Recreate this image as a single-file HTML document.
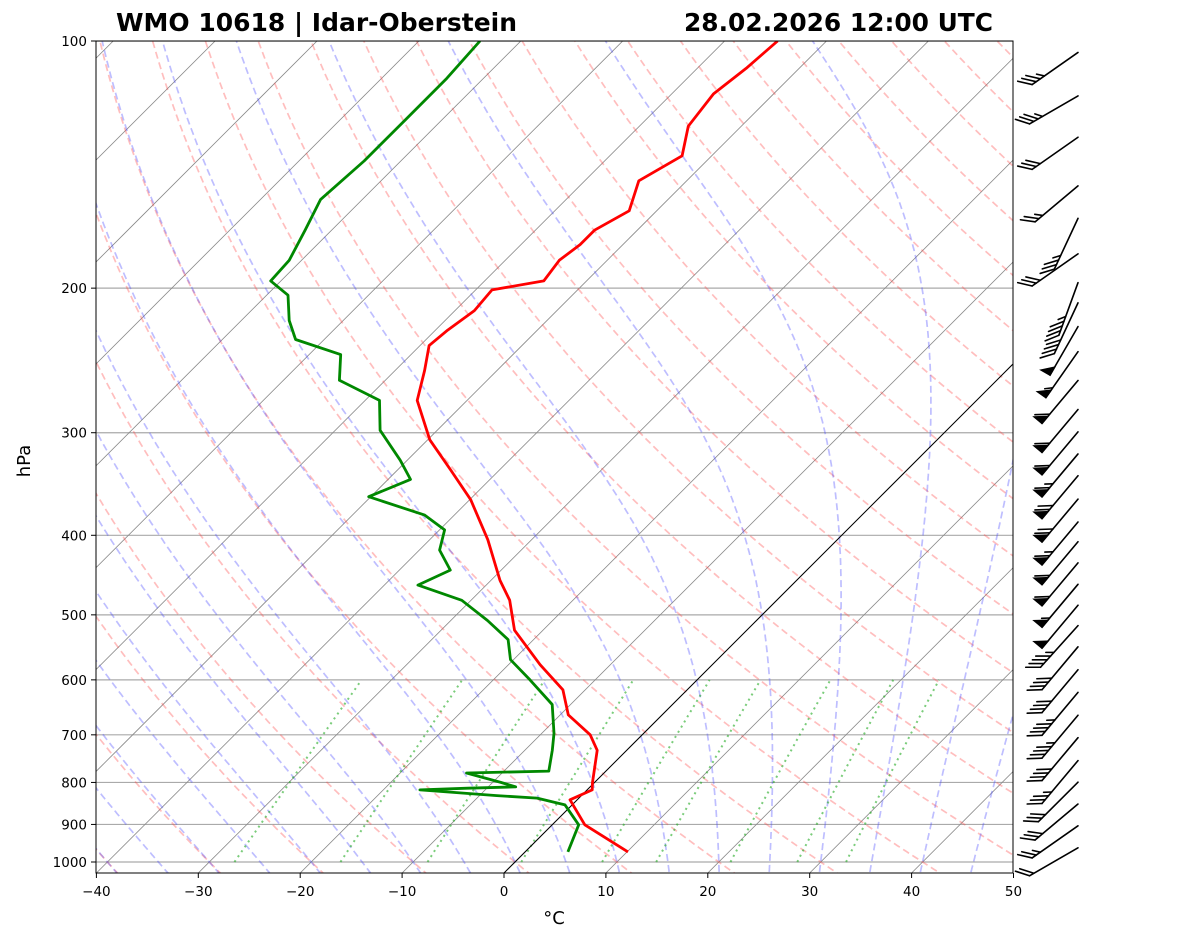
<!DOCTYPE html>
<html><head><meta charset="utf-8">
<style>
html,body{margin:0;padding:0;background:#fff;}
svg{display:block;font-family:"DejaVu Sans","Liberation Sans",sans-serif;}
</style></head>
<body>
<svg id="chart" width="1181" height="941" viewBox="0 0 1181 941" xmlns="http://www.w3.org/2000/svg">
<defs><clipPath id="plotclip"><rect x="96" y="41" width="917" height="832"/></clipPath></defs>
<rect width="1181" height="941" fill="#fff"/>
<text x="116" y="31" font-size="25" font-weight="bold" textLength="401" lengthAdjust="spacingAndGlyphs">WMO 10618 | Idar-Oberstein</text>
<text x="684" y="31" font-size="25" font-weight="bold" textLength="309" lengthAdjust="spacingAndGlyphs">28.02.2026 12:00 UTC</text>
<g id="bg" clip-path="url(#plotclip)"></g>
<g id="profiles" clip-path="url(#plotclip)"></g>
<rect x="96" y="41" width="917" height="832" fill="none" stroke="#000" stroke-width="1"/>
<g id="axes"></g>
<g id="barbs"></g>
<text x="30" y="461" font-size="18" text-anchor="middle" transform="rotate(-90 30 461)">hPa</text>
<text x="554" y="924" font-size="18" text-anchor="middle">°C</text>
</svg>
<script>
// ---- data ----
const pressureTicks = [100,200,300,400,500,600,700,800,900,1000];
const tempTicks = [-40,-30,-20,-10,0,10,20,30,40,50];
const tempP = [972,901,840,817,800,731,700,662,617,575,522,480,454,405,362,333,306,274,252,235,225,213,201,196,185,177,170,161,148,138,127,116,108,100];
const tempT = [10.1,3.2,-0.7,0.5,-0.2,-2.9,-5.1,-9.2,-12.2,-16.9,-22.8,-26.2,-29.1,-34.3,-39.9,-44.8,-49.8,-54.9,-57.1,-59.1,-58.8,-58.1,-58.4,-54.2,-54.7,-54.2,-54.2,-52.7,-54.7,-52.9,-55.2,-55.9,-55.2,-54.8];
const dewP = [972,901,852,845,836,830,817,813,810,800,779,775,731,697,643,600,567,536,508,480,460,441,417,394,378,359,342,324,298,274,259,241,231,219,204,196,185,170,156,140,125,111,100];
const dewT = [4.2,2.6,-0.7,-2.2,-4.1,-8.3,-16.4,-11.9,-7.3,-9.2,-13.5,-5.6,-7.3,-8.8,-11.8,-16.4,-20.3,-22.5,-26.4,-30.9,-36.7,-35.0,-38.0,-39.5,-42.9,-50.2,-47.8,-50.7,-55.6,-58.6,-64.5,-66.9,-72.8,-75.3,-77.9,-81.0,-81.2,-82.6,-84.1,-83.6,-83.6,-83.6,-84.0];
const barbP = [108,122,137,157,172,190,206,218,233,250,271,294,313,333,354,378,403,426,452,480,509,539,572,610,650,693,738,787,836,889,945,1005];
const barbDir = [235,240,235,230,205,235,200,205,210,215,220,220,220,220,220,220,220,220,220,220,220,222,220,220,220,220,220,220,225,230,235,240];
const barbSpd = [35,35,30,25,35,30,45,40,50,55,60,60,60,65,70,70,65,60,60,55,50,45,40,40,45,45,40,35,30,30,25,20];

// ---- axis functions ----
const Y0=41, DEC=821, XB=873;
function yOf(p){return Y0+DEC*Math.log10(p/100);}
function xOf(T,p){return 504+T*10.19+(XB-yOf(p));}
const NS="http://www.w3.org/2000/svg";
function mk(tag,attrs,parent){const e=document.createElementNS(NS,tag);for(const k in attrs)e.setAttribute(k,attrs[k]);parent.appendChild(e);return e;}
const bg=document.getElementById('bg'),prof=document.getElementById('profiles'),axes=document.getElementById('axes'),barbs=document.getElementById('barbs');
function pathFrom(ps,ts){return ps.map((p,i)=>(i?'L':'M')+xOf(ts[i],p).toFixed(1)+','+yOf(p).toFixed(1)).join('');}
const pGrid=[];for(let p=1060;p>=95;p-=5)pGrid.push(p);

for(const p of pressureTicks){
  const l=mk('line',{x1:96,x2:1013,y1:yOf(p),y2:yOf(p),stroke:'#aaa','stroke-width':1.2},bg);
  
  
}
for(let T=-130;T<=50;T+=10){
  const l=mk('line',{x1:xOf(T,1060),y1:yOf(1060),x2:xOf(T,95),y2:yOf(95),stroke:'#888','stroke-width':0.8},bg);
  
  
}
for(let th=-40;th<=200;th+=10){
  const ts=pGrid.map(p=>(th+273.15)*Math.pow(p/1000,0.2857)-273.15);
  const e=mk('path',{d:pathFrom(pGrid,ts),fill:'none',stroke:'#f44','stroke-opacity':0.35,'stroke-width':1.7,'stroke-dasharray':'7,4'},bg);
  
  
}
function es(T){return 6.112*Math.exp(17.67*T/(T+243.5));}
function moistStep(Tk,p,dp){
  const rs=0.622*es(Tk-273.15)/(p-es(Tk-273.15));
  const Lv=2.501e6,Rd=287.04,Cp=1005.7;
  const g=(Rd*Tk+Lv*rs)/(Cp+Lv*Lv*rs*0.622/(Rd*Tk*Tk));
  return Tk+g*dp/p;
}
for(let t0=-40;t0<=45;t0+=5){
  let Tk=t0+273.15;const ps=[],ts=[];
  for(let p=1000;p>=100;p-=2){ps.push(p);ts.push(Tk-273.15);Tk=moistStep(Tk,p,-2);}
  let Tk2=t0+273.15;const ps2=[],ts2=[];
  for(let p=1000;p<=1060;p+=2){ps2.unshift(p);ts2.unshift(Tk2-273.15);Tk2=moistStep(Tk2,p,2);}
  const e=mk('path',{d:pathFrom(ps2.concat(ps),ts2.concat(ts)),fill:'none',stroke:'#44f','stroke-opacity':0.35,'stroke-width':1.7,'stroke-dasharray':'7,4'},bg);
  
  
}
const mixW=[0.0004,0.001,0.002,0.004,0.007,0.01,0.016,0.024,0.032];
for(const w of mixW){
  const ps=[],ts=[];
  for(let p=1000;p>=600;p-=10){
    const e=w*p/(0.622+w);const lg=Math.log(e/6.112);
    ps.push(p);ts.push(243.5*lg/(17.67-lg));
  }
  const e=mk('path',{d:pathFrom(ps,ts),fill:'none',stroke:'#2a2','stroke-opacity':0.6,'stroke-width':2,'stroke-dasharray':'2,4'},bg);
  
  
}
const z=mk('line',{x1:xOf(0,1060),y1:yOf(1060),x2:xOf(0,95),y2:yOf(95),stroke:'#000','stroke-width':1},bg);



const tl=mk('path',{d:pathFrom(tempP,tempT),fill:'none',stroke:'#f00','stroke-width':2.8,'stroke-linejoin':'round'},prof);


const dl=mk('path',{d:pathFrom(dewP,dewT),fill:'none',stroke:'#080','stroke-width':2.8,'stroke-linejoin':'round'},prof);



for(const p of pressureTicks){
  const y=yOf(p);
  mk('line',{x1:91,x2:96,y1:y,y2:y,stroke:'#000'},axes);
  const t=mk('text',{x:87,y:y+5,'font-size':13.5,'text-anchor':'end'},axes);
  t.textContent=p;
  
  
}
for(const T of tempTicks){
  const x=504+T*10.19;
  mk('line',{x1:x,x2:x,y1:873,y2:878,stroke:'#000'},axes);
  const t=mk('text',{x:x,y:896,'font-size':13.5,'text-anchor':'middle'},axes);
  t.textContent=(T<0?'\u2212'+(-T):T);
  
  
}
// wind barbs: station at upper right, staff points toward where wind comes from
barbP.forEach((p,i)=>{
  const g=mk('g',{stroke:'#000','stroke-width':1.6,fill:'#000','stroke-linecap':'round'},barbs);
  
  
  const sx0=1078, sy0=yOf(p)-16;
  const a=barbDir[i]*Math.PI/180;
  const ux=Math.sin(a), uy=-Math.cos(a);
  const L=56;
  const tx=sx0+ux*L, ty=sy0+uy*L;
  mk('line',{x1:sx0,y1:sy0,x2:tx,y2:ty},g);
  const px=-uy, py=ux;
  const fx=(px+ux*0.9), fy=(py+uy*0.9);
  let s=barbSpd[i], pos=0;
  while(s>=50){
    const x1=tx-ux*pos, y1=ty-uy*pos;
    const x2=tx-ux*(pos+9), y2=ty-uy*(pos+9);
    mk('polygon',{points:`${x1},${y1} ${x2+fx*10},${y2+fy*10} ${x2},${y2}`},g);
    pos+=12;s-=50;
  }
  while(s>=10){
    const x1=tx-ux*pos, y1=ty-uy*pos;
    mk('line',{x1:x1,y1:y1,x2:x1+fx*11,y2:y1+fy*11},g);
    pos+=5;s-=10;
  }
  if(s>=5){
    if(pos===0)pos=5;
    const x1=tx-ux*pos, y1=ty-uy*pos;
    mk('line',{x1:x1,y1:y1,x2:x1+fx*6,y2:y1+fy*6},g);
  }
});
</script>
</body></html>
